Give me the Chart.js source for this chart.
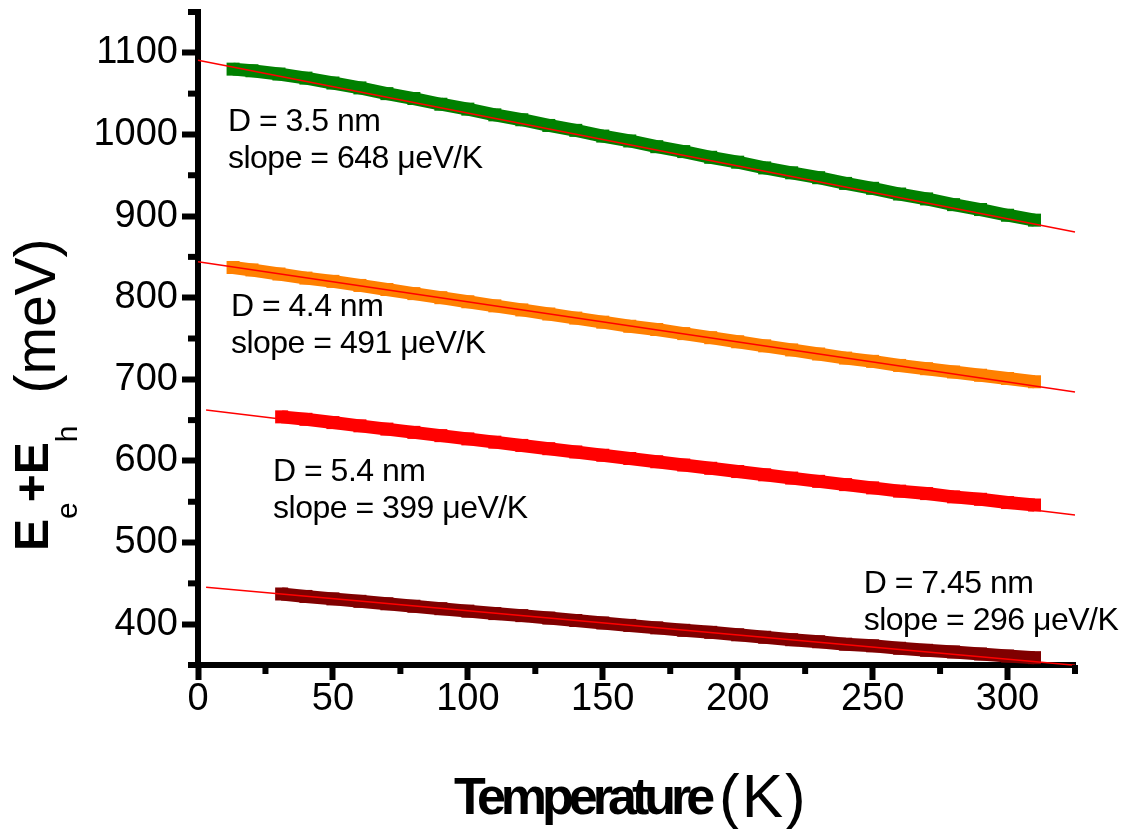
<!DOCTYPE html>
<html>
<head>
<meta charset="utf-8">
<script src="https://cdn.jsdelivr.net/npm/chart.js@4.4.0/dist/chart.umd.min.js"></script>
<style>
  body { margin: 0; background: #fff; }
  #wrap { width: 1122px; height: 829px; }
</style>
</head>
<body>
<div id="wrap"><canvas id="grafico" width="1122" height="829"></canvas></div>
<script>
// temperaturas (K)
const tempsLongo = [13, 20, 30, 40, 50, 60, 70, 80, 90, 100, 110, 120, 130, 140, 150, 160, 170, 180, 190, 200, 210, 220, 230, 240, 250, 260, 270, 280, 290, 300, 310];
const tempsCurto = [31, 40, 50, 60, 70, 80, 90, 100, 110, 120, 130, 140, 150, 160, 170, 180, 190, 200, 210, 220, 230, 240, 250, 260, 270, 280, 290, 300, 310];

// Ee + Eh (meV) para cada diametro
const energia35 = [1080, 1078, 1074, 1069, 1063, 1057, 1050, 1044, 1037, 1031, 1024, 1018, 1011, 1005, 998, 992, 985, 979, 972, 966, 959, 953, 947, 940, 934, 927, 921, 914, 908, 901, 895];
const energia44 = [837, 834, 829, 824, 820, 815, 810, 805, 800, 795, 790, 785, 780, 775, 770, 765, 761, 756, 751, 746, 741, 736, 731, 726, 722, 717, 713, 709, 705, 701, 697];
const energia54 = [654, 651, 647, 643, 639, 635, 631, 627, 623, 619, 615, 611, 607, 603, 599, 595, 591, 587, 583, 579, 575, 571, 567, 563, 560, 556, 553, 549, 546];
const energia745 = [437, 434, 431, 428, 425, 422, 419, 416, 413, 410.5, 407.5, 404.5, 401.5, 398.5, 395.5, 392.5, 390, 387, 384, 381, 378.5, 375.5, 373.5, 370.5, 368, 366, 363.5, 361, 359];

// ajuste linear: E(T) = E0 - slope * T
const diametros = ['3.5', '4.4', '5.4', '7.45'];
const slopes = [648, 491, 399, 296];          // ueV/K
const intercepts = [1091, 844, 663.5, 446];   // meV em T = 0
const fitInicio = [0, 0, 3, 3];
const fitFim = 325;

const xTicks = [0, 50, 100, 150, 200, 250, 300];
const yTicks = [400, 500, 600, 700, 800, 900, 1000, 1100];

const cores = ['#008000', '#ff8000', '#ff0000', '#800000'];
const fonte = "'Liberation Sans', Arial, sans-serif";

const series = [
    [tempsLongo, energia35],
    [tempsLongo, energia44],
    [tempsCurto, energia54],
    [tempsCurto, energia745]
];

let datasets = [];

series.forEach(([temps, vals], i) => {
    datasets.push({
        data: temps.map((t, j) => ({ x: t, y: vals[j] })),
        borderColor: cores[i],
        backgroundColor: cores[i],
        borderWidth: 13,
        borderCapStyle: 'butt',
        tension: 0,
        pointStyle: 'rect',
        pointRadius: 9.2,
        pointBorderWidth: 0,
        pointBackgroundColor: cores[i],
        order: 1,
        clip: 0
    });
});

slopes.forEach((s, i) => {
    const e = t => intercepts[i] - s / 1000 * t;
    datasets.push({
        data: [{ x: fitInicio[i], y: e(fitInicio[i]) }, { x: fitFim, y: e(fitFim) }],
        borderColor: '#ff0000',
        borderWidth: 1.5,
        pointRadius: 0,
        order: 0,
        clip: 2
    });
});

// ticks menores, rotulos e titulos dos eixos
const textos = {
    id: 'textos',
    afterDraw(chart) {
        const ctx = chart.ctx;
        const xs = chart.scales.x;
        const ys = chart.scales.y;
        const area = chart.chartArea;

        ctx.save();
        ctx.strokeStyle = '#000';
        ctx.lineWidth = 6;
        for (let t = 25; t <= 325; t += 50) {
            const px = xs.getPixelForValue(t);
            ctx.beginPath();
            ctx.moveTo(px, area.bottom);
            ctx.lineTo(px, area.bottom + 9);
            ctx.stroke();
        }
        for (let v = 350; v <= 1150; v += 100) {
            const py = ys.getPixelForValue(v);
            ctx.beginPath();
            ctx.moveTo(area.left - 10, py);
            ctx.lineTo(area.left, py);
            ctx.stroke();
        }

        // rotulos D / slope
        const rotulos = [
            { t: 11.1, e: 1004 },
            { t: 12.2, e: 777.6 },
            { t: 27.8, e: 575.3 },
            { t: 246.7, e: 438.4 }
        ];
        ctx.fillStyle = '#000';
        ctx.font = `32px ${fonte}`;
        ctx.letterSpacing = '-0.5px';
        ctx.textBaseline = 'alphabetic';
        ctx.textAlign = 'left';
        rotulos.forEach((r, i) => {
            const px = xs.getPixelForValue(r.t);
            const py = ys.getPixelForValue(r.e);
            ctx.fillText(`D = ${diametros[i]} nm`, px, py);
            ctx.fillText(`slope = ${slopes[i]} \u03BCeV/K`, px, py + 37);
        });

        // titulo do eixo x
        ctx.letterSpacing = '-5px';
        ctx.font = `bold 52px ${fonte}`;
        ctx.fillText('Temperature', 454, 814);
        ctx.letterSpacing = '2px';
        ctx.font = `62px ${fonte}`;
        ctx.fillText('(K)', 719, 817);
        ctx.letterSpacing = '0px';

        // titulo do eixo y
        ctx.translate(48, 551);
        ctx.rotate(-Math.PI / 2);
        let x = 0;
        const parte = (txt, f, dy) => {
            ctx.font = f;
            ctx.fillText(txt, x, dy);
            x += ctx.measureText(txt).width;
        };
        parte('E', `bold 48px ${fonte}`, 0);
        parte('e', `30px ${fonte}`, 29);
        parte('+', `bold 48px ${fonte}`, 0);
        parte('E', `bold 48px ${fonte}`, 0);
        parte('h', `30px ${fonte}`, 29);
        x += 32;
        parte('(meV)', `57px ${fonte}`, 7);
        ctx.restore();
    }
};

new Chart(document.getElementById('grafico'), {
    type: 'line',
    data: { datasets: datasets },
    options: {
        responsive: false,
        animation: false,
        devicePixelRatio: 1,
        layout: { padding: { left: 0, right: 47, top: 12, bottom: 0 } },
        plugins: {
            legend: { display: false },
            tooltip: { enabled: false }
        },
        scales: {
            x: {
                type: 'linear',
                min: 0,
                max: 325,
                z: 1,
                border: { display: true, color: '#000', width: 6 },
                grid: { drawOnChartArea: false, drawTicks: true, tickLength: 15, tickWidth: 6, tickColor: '#000' },
                ticks: {
                    color: '#000',
                    padding: 1,
                    maxRotation: 0,
                    autoSkip: false,
                    callback: v => String(v),
                    font: { family: fonte, size: 38, lineHeight: 1 }
                },
                afterBuildTicks: s => { s.ticks = xTicks.map(v => ({ value: v })); },
                afterFit: s => { s.height = 164; s.paddingLeft = 0; s.paddingRight = 0; }
            },
            y: {
                type: 'linear',
                min: 350,
                max: 1150,
                z: 1,
                border: { display: true, color: '#000', width: 6 },
                grid: { drawOnChartArea: false, drawTicks: true, tickLength: 16, tickWidth: 6, tickColor: '#000' },
                ticks: {
                    color: '#000',
                    padding: 4,
                    autoSkip: false,
                    callback: v => String(v),
                    font: { family: fonte, size: 38, lineHeight: 0.6 }
                },
                afterBuildTicks: s => { s.ticks = yTicks.map(v => ({ value: v })); },
                afterFit: s => { s.width = 198; s.paddingTop = 0; s.paddingBottom = 0; }
            }
        }
    },
    plugins: [textos]
});
</script>
</body>
</html>
